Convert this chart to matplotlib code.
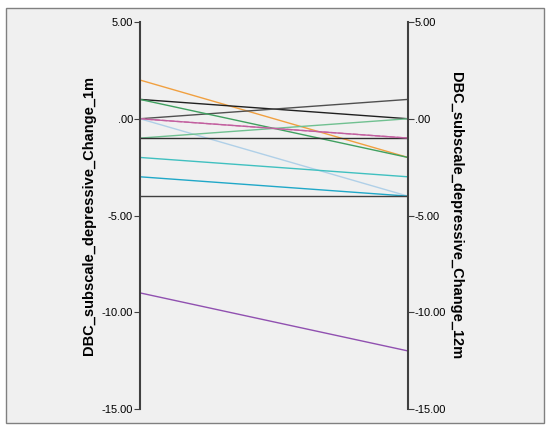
import matplotlib.pyplot as plt

left = [2, 1, 0, 1, 0, 0, -1, -1, -2, -3, -4, -9, 0]
right = [-2, 0, 1, -2, -1, -4, 0, -1, -3, -4, -4, -12, -1]
colors = ['#f0a040', '#202020', '#505050', '#40a060', '#e080b0', '#b0d0e8',
          '#70c090', '#303030', '#40c0c0', '#20a8c8', '#404040', '#9050b0', '#c060a0']
styles = ['-', '-', '-', '-', '--', '-', '-', '-', '-', '-', '-', '-', '-']
ticks = [5, 0, -5, -10, -15]
ticklabels = ['5.00', '.00', '-5.00', '-10.00', '-15.00']

plt.rcParams['font.family'] = ['Liberation Sans', 'DejaVu Sans']
fig = plt.figure(figsize=(5.5, 4.29), dpi=100)
fig.patch.set_facecolor('white')
fig.add_artist(plt.Rectangle((6/550, 6/429), 538/550, 415/429, fc='#f0f0f0',
                             ec='#808080', lw=1, transform=fig.transFigure, zorder=-10))
ax = fig.add_axes([140/550, 20/429, 268/550, 387/429])
ax.patch.set_alpha(0)
for l, r, c, s in zip(left, right, colors, styles):
    ax.plot([0, 1], [l, r], color=c, ls=s, lw=1)
ax.set_xlim(0, 1)
ax.set_ylim(-15, 5)
ax.set_xticks([])
ax.set_yticks(ticks)
ax.set_yticklabels(ticklabels, fontsize=8)
ax.tick_params(axis='y', direction='out', length=4, pad=1, color='#404040')
for sp in ['top', 'bottom']:
    ax.spines[sp].set_visible(False)
ax.spines['left'].set_color('#404040')
ax.spines['right'].set_color('#404040')
ax.spines['left'].set_linewidth(1.5)
ax.spines['right'].set_linewidth(1.5)
ax.set_ylabel('DBC_subscale_depressive_Change_1m', fontsize=10.5, fontweight='bold', labelpad=4)
ax2 = ax.twinx()
ax2.set_ylim(-15, 5)
ax2.set_yticks(ticks)
ax2.set_yticklabels(ticklabels, fontsize=8)
ax2.tick_params(axis='y', direction='out', length=4, pad=1, color='#404040')
for sp in ['top', 'bottom', 'left', 'right']:
    ax2.spines[sp].set_visible(False)
ax2.set_ylabel('DBC_subscale_depressive_Change_12m', fontsize=10.5, fontweight='bold',
               rotation=270, labelpad=12)
fig.savefig('out.png')
